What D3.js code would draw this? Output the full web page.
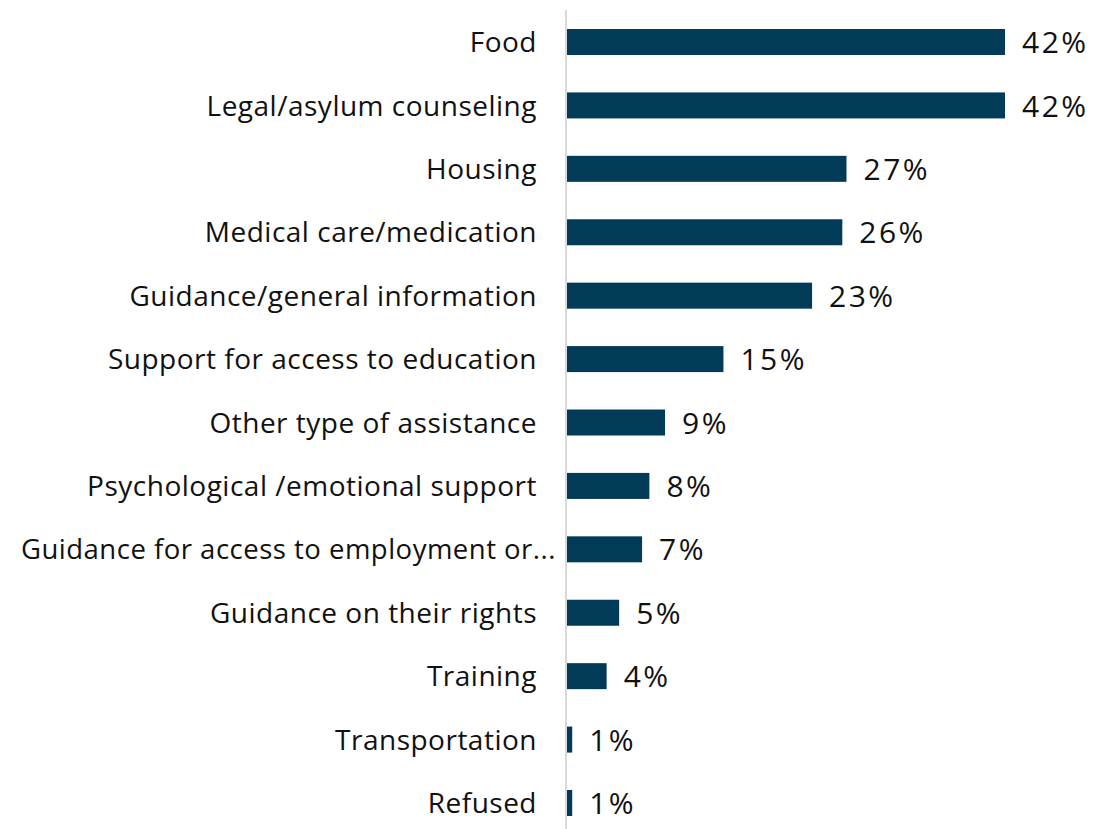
<!DOCTYPE html>
<html>
<head>
<meta charset="utf-8">
<script src="https://cdn.jsdelivr.net/npm/d3@7"></script>
<style>
  html, body { margin: 0; padding: 0; background: #fff; }
  svg { display: block; }
</style>
</head>
<body>
<svg id="chart" width="1117" height="829"></svg>
<script>
const categories = [
  "Food",
  "Legal/asylum counseling",
  "Housing",
  "Medical care/medication",
  "Guidance/general information",
  "Support for access to education",
  "Other type of assistance",
  "Psychological /emotional support",
  "Guidance for access to employment or...",
  "Guidance on their rights",
  "Training",
  "Transportation",
  "Refused"
];
const values = [42, 42, 26.8, 26.4, 23.5, 15, 9.4, 7.9, 7.2, 5, 3.8, 0.5, 0.5];
const valueLabels = ["42%", "42%", "27%", "26%", "23%", "15%", "9%", "8%", "7%", "5%", "4%", "1%", "1%"];

const svg = d3.select("#chart");
const W = 1117, H = 829;
const x0 = 567;
const x = d3.scaleLinear().domain([0, 42]).range([x0, 1005]);
const y = d3.scaleBand().domain(categories).range([10.3, 834.7]).paddingInner(0.59).paddingOuter(0.295);

const data = categories.map((c, i) => ({ c, v: values[i], l: valueLabels[i] }));

svg.selectAll("rect.bar").data(data).enter().append("rect")
  .attr("class", "bar")
  .attr("x", x(0))
  .attr("y", d => y(d.c))
  .attr("width", d => x(d.v) - x(0))
  .attr("height", y.bandwidth())
  .attr("fill", "#023b57");

// axis line
svg.append("line")
  .attr("x1", 566).attr("x2", 566)
  .attr("y1", 10).attr("y2", H)
  .attr("stroke", "#d9d9d9").attr("stroke-width", 2);

const labelRight = 537, labelLeftMin = 21, maxLabelW = 535;
svg.selectAll("text.cat").data(data).enter().append("text")
  .attr("class", "cat")
  .attr("x", labelRight)
  .attr("y", d => y(d.c) + y.bandwidth() / 2)
  .attr("dy", "0.36em")
  .attr("text-anchor", "end")
  .attr("font-family", "'Open Sans', Lato, sans-serif")
  .attr("font-size", 28)
  .attr("letter-spacing", "0.5px")
  .attr("fill", "#111")
  .text(d => d.c)
  .each(function() {
    const w = this.getComputedTextLength();
    if (labelRight - w < labelLeftMin) {
      d3.select(this)
        .attr("text-anchor", "start")
        .attr("x", labelLeftMin)
        .attr("textLength", maxLabelW)
        .attr("lengthAdjust", "spacingAndGlyphs");
    }
  });

svg.selectAll("text.val").data(data).enter().append("text")
  .attr("class", "val")
  .attr("x", d => x(d.v) + 17)
  .attr("y", d => y(d.c) + y.bandwidth() / 2)
  .attr("dy", "0.37em")
  .attr("font-family", "'Open Sans', Lato, sans-serif")
  .attr("font-size", 30)
  .attr("letter-spacing", "2.5px")
  .attr("fill", "#111")
  .text(d => d.l);
</script>
</body>
</html>
